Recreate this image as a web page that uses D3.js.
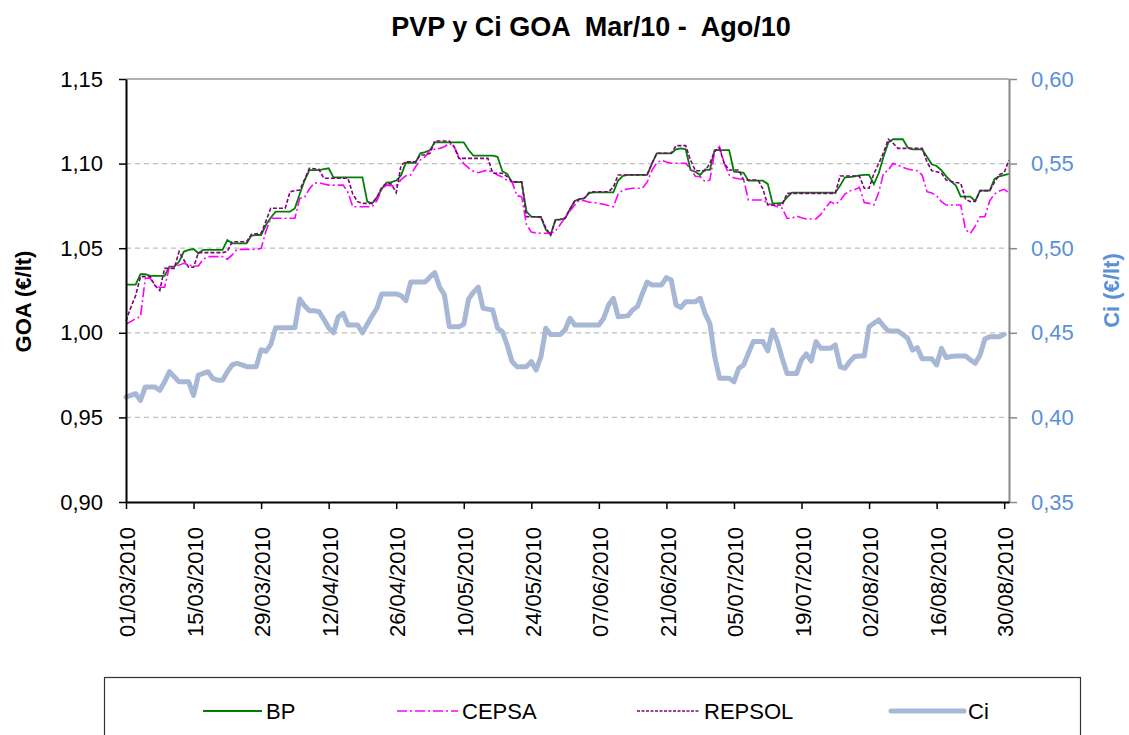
<!DOCTYPE html>
<html><head><meta charset="utf-8">
<script src="https://cdn.jsdelivr.net/npm/d3@7"></script>
<style>
body{margin:0;background:#fff;}
svg{display:block;font-family:"Liberation Sans",Arial,sans-serif;}
</style>
</head><body>
<svg id="chart" width="1129" height="735"></svg>
<script>
// ---------- data ----------
const startDate = "2010-03-01";           // first daily category
const endDate = "2010-08-31";             // last category on the axis
const tickLabels = ["01/03/2010","15/03/2010","29/03/2010","12/04/2010","26/04/2010","10/05/2010","24/05/2010",
  "07/06/2010","21/06/2010","05/07/2010","19/07/2010","02/08/2010","16/08/2010","30/08/2010"];
const leftTicks = [0.90,0.95,1.00,1.05,1.10,1.15];
const rightTicks = [0.35,0.40,0.45,0.50,0.55,0.60];
const seriesNames = ["BP","CEPSA","REPSOL","Ci"];

const bp = [1.0285,1.0285,1.0285,1.0346,1.0346,1.0336,1.0336,1.0336,1.0336,1.0391,
1.0391,1.0420,1.0480,1.0490,1.0495,1.0470,1.0490,1.0490,1.0490,1.0490,
1.0490,1.0548,1.0529,1.0529,1.0529,1.0529,1.0575,1.0578,1.0578,1.0637,
1.0680,1.0716,1.0716,1.0716,1.0716,1.0736,1.0820,1.0900,1.0962,1.0962,
1.0962,1.0967,1.0972,1.0919,1.0919,1.0919,1.0919,1.0919,1.0919,1.0919,
1.0775,1.0765,1.0800,1.0850,1.0887,1.0890,1.0900,1.0930,1.1005,1.1005,
1.1005,1.1061,1.1068,1.1080,1.1126,1.1126,1.1126,1.1126,1.1126,1.1126,
1.1126,1.1080,1.1047,1.1047,1.1047,1.1047,1.1047,1.1040,1.0955,1.0939,
1.0890,1.0890,1.0890,1.0716,1.0686,1.0685,1.0683,1.0610,1.0578,1.0667,
1.0670,1.0677,1.0730,1.0779,1.0790,1.0795,1.0825,1.0830,1.0830,1.0830,
1.0830,1.0830,1.0900,1.0927,1.0933,1.0933,1.0933,1.0933,1.0933,1.1000,
1.1061,1.1061,1.1061,1.1061,1.1084,1.1090,1.1084,1.0962,1.0952,1.0933,
1.0966,1.0962,1.1080,1.1080,1.1080,1.1080,1.0952,1.0950,1.0946,1.0899,
1.0899,1.0899,1.0899,1.0880,1.0765,1.0765,1.0768,1.0800,1.0828,1.0828,
1.0828,1.0828,1.0828,1.0828,1.0828,1.0828,1.0828,1.0828,1.0870,1.0919,
1.0920,1.0925,1.0930,1.0933,1.0933,1.0879,1.0943,1.1040,1.1125,1.1144,
1.1144,1.1144,1.1095,1.1084,1.1084,1.1084,1.1040,1.0996,1.0986,1.0960,
1.0925,1.0895,1.0870,1.0805,1.0805,1.0805,1.0778,1.0840,1.0840,1.0840,
1.0910,1.0925,1.0932,1.0939];

const cepsa = [1.0052,1.0066,1.0085,1.0095,1.0322,1.0322,1.0280,1.0269,1.0269,1.0391,
1.0387,1.0400,1.0411,1.0400,1.0395,1.0395,1.0435,1.0450,1.0450,1.0450,
1.0450,1.0435,1.0460,1.0493,1.0493,1.0493,1.0493,1.0493,1.0499,1.0600,
1.0677,1.0677,1.0677,1.0677,1.0677,1.0677,1.0795,1.0800,1.0850,1.0885,
1.0887,1.0880,1.0873,1.0873,1.0873,1.0873,1.0830,1.0745,1.0745,1.0745,
1.0745,1.0745,1.0780,1.0850,1.0873,1.0870,1.0868,1.0905,1.0928,1.0933,
1.0980,1.1021,1.1041,1.1080,1.1085,1.1090,1.1100,1.1120,1.1100,1.1040,
1.1000,1.0975,1.0955,1.0946,1.0955,1.0962,1.0950,1.0933,1.0920,1.0900,
1.0893,1.0810,1.0805,1.0640,1.0595,1.0590,1.0588,1.0588,1.0588,1.0600,
1.0640,1.0680,1.0720,1.0755,1.0785,1.0780,1.0772,1.0770,1.0765,1.0760,
1.0752,1.0745,1.0820,1.0844,1.0850,1.0854,1.0854,1.0854,1.0890,1.0960,
1.1005,1.1020,1.1010,1.1002,1.1002,1.1002,1.1002,1.0970,1.0925,1.0923,
1.0893,1.0903,1.1070,1.1100,1.1000,1.0933,1.0915,1.0910,1.0907,1.0785,
1.0785,1.0785,1.0785,1.0765,1.0755,1.0745,1.0736,1.0677,1.0677,1.0690,
1.0680,1.0673,1.0673,1.0673,1.0700,1.0740,1.0775,1.0760,1.0780,1.0820,
1.0838,1.0845,1.0860,1.0770,1.0765,1.0755,1.0830,1.0943,1.0962,1.1002,
1.0990,1.0978,1.0968,1.0962,1.0958,1.0933,1.0834,1.0826,1.0810,1.0775,
1.0755,1.0755,1.0755,1.0755,1.0610,1.0588,1.0630,1.0686,1.0686,1.0780,
1.0820,1.0838,1.0848,1.0828];

const repsol = [1.0070,1.0150,1.0220,1.0332,1.0332,1.0332,1.0280,1.0250,1.0381,1.0381,
1.0381,1.0480,1.0430,1.0387,1.0387,1.0474,1.0474,1.0474,1.0474,1.0474,
1.0474,1.0480,1.0538,1.0538,1.0538,1.0538,1.0582,1.0585,1.0588,1.0660,
1.0736,1.0736,1.0736,1.0736,1.0834,1.0840,1.0844,1.0905,1.0972,1.0970,
1.0966,1.0913,1.0913,1.0913,1.0913,1.0913,1.0913,1.0820,1.0775,1.0765,
1.0765,1.0765,1.0800,1.0860,1.0883,1.0879,1.0828,1.0990,1.1011,1.1011,
1.1011,1.1051,1.1051,1.1060,1.1134,1.1134,1.1134,1.1134,1.1100,1.1031,
1.1031,1.1031,1.1031,1.1031,1.1031,1.1031,1.0943,1.0943,1.0943,1.0923,
1.0893,1.0893,1.0893,1.0686,1.0686,1.0686,1.0686,1.0620,1.0578,1.0667,
1.0670,1.0677,1.0730,1.0779,1.0790,1.0795,1.0830,1.0834,1.0834,1.0834,
1.0834,1.0860,1.0933,1.0933,1.0933,1.0933,1.0933,1.0933,1.0933,1.1000,
1.1061,1.1061,1.1061,1.1061,1.1106,1.1106,1.1106,1.1020,1.0958,1.0958,
1.0958,1.1000,1.1075,1.1090,1.1000,1.0962,1.0962,1.0962,1.0903,1.0903,
1.0903,1.0903,1.0850,1.0755,1.0755,1.0755,1.0755,1.0824,1.0824,1.0824,
1.0824,1.0824,1.0824,1.0824,1.0824,1.0824,1.0824,1.0824,1.0927,1.0927,
1.0927,1.0927,1.0927,1.0854,1.0854,1.0940,1.1000,1.1065,1.1144,1.1120,
1.1090,1.1090,1.1090,1.1090,1.1090,1.1090,1.1010,1.0958,1.0952,1.0943,
1.0903,1.0895,1.0888,1.0884,1.0790,1.0775,1.0777,1.0840,1.0840,1.0840,
1.0890,1.0935,1.0946,1.1021];

const ci = [0.412,0.413,0.414,0.410,0.418,0.418,0.418,0.416,0.421,0.427,
0.424,0.421,0.421,0.421,0.413,0.425,0.426,0.427,0.423,0.422,
0.422,0.427,0.431,0.432,0.431,0.430,0.430,0.430,0.440,0.439,
0.443,0.453,0.453,0.453,0.453,0.453,0.470,0.466,0.463,0.463,
0.4625,0.458,0.453,0.450,0.4595,0.4615,0.4546,0.4546,0.4546,0.450,
0.455,0.460,0.4645,0.473,0.473,0.473,0.473,0.472,0.469,0.480,
0.480,0.480,0.480,0.483,0.4855,0.477,0.4724,0.4536,0.4536,0.4536,
0.455,0.470,0.474,0.477,0.4645,0.464,0.4635,0.4527,0.4507,0.4428,
0.433,0.430,0.430,0.430,0.433,0.428,0.436,0.4527,0.449,0.449,
0.449,0.4517,0.4586,0.4546,0.4546,0.4546,0.4546,0.4546,0.4546,0.4586,
0.4664,0.4704,0.4595,0.4598,0.460,0.4635,0.4655,0.473,0.480,0.4783,
0.4783,0.4783,0.4826,0.4812,0.4664,0.465,0.4684,0.4684,0.4684,0.4704,
0.4615,0.4556,0.436,0.4231,0.4231,0.4231,0.4211,0.429,0.431,0.438,
0.4448,0.4448,0.4448,0.4393,0.4517,0.4448,0.435,0.426,0.426,0.426,
0.434,0.4375,0.4333,0.4448,0.4408,0.4408,0.4408,0.4428,0.430,0.429,
0.433,0.436,0.4363,0.4363,0.4536,0.4556,0.4576,0.454,0.4511,0.4511,
0.4511,0.449,0.4468,0.4398,0.4412,0.4346,0.4346,0.4346,0.431,0.4408,
0.4353,0.436,0.4363,0.4363,0.4363,0.434,0.432,0.4369,0.4463,0.4477,
0.4477,0.4477,0.4491];

// ---------- layout ----------
const plot = {left:126, right:1009, top:79, bottom:502};
const FS = 22;
const svg = d3.select("#chart");

const parse = d3.utcParse("%Y-%m-%d");
const parseTick = d3.utcParse("%d/%m/%Y");
const t0 = parse(startDate), t1 = parse(endDate);
const dayOf = i => d3.utcDay.offset(t0, i);

const x = d3.scaleUtc().domain([t0, t1]).range([plot.left, plot.right]);
const yL = d3.scaleLinear().domain([0.90, 1.15]).range([plot.bottom, plot.top]);
const yR = d3.scaleLinear().domain([0.35, 0.60]).range([plot.bottom, plot.top]);
const fmt = d => d.toFixed(2).replace(".", ",");

// gridlines
svg.append("g").selectAll("line").data(leftTicks.filter(v => v > 0.9 && v < 1.15)).join("line")
  .attr("x1", plot.left).attr("x2", plot.right)
  .attr("y1", d => yL(d)).attr("y2", d => yL(d))
  .attr("stroke", "#c0c0c0").attr("stroke-width", 1.3).attr("stroke-dasharray", "5,4");

// top border of plot area
svg.append("line").attr("x1", plot.left).attr("x2", plot.right)
  .attr("y1", yL(1.15)).attr("y2", yL(1.15)).attr("stroke", "#999").attr("stroke-width", 1.5);

// Ci line (secondary axis)
const lineCi = d3.line().x((d, i) => x(dayOf(i))).y(d => yR(d));
svg.append("path").datum(ci).attr("d", lineCi)
  .attr("fill", "none").attr("stroke", "#a7b7d6").attr("stroke-width", 5)
  .attr("stroke-linejoin", "round").attr("stroke-linecap", "round");

// GOA lines
const lineL = d3.line().x((d, i) => x(dayOf(i))).y(d => yL(d));
const styles = {
  BP: {color:"#008000", dash:null, w:1.8},
  CEPSA: {color:"#ff00ff", dash:"10,3,2,3", w:1.6},
  REPSOL: {color:"#800080", dash:"4,2", w:1.6}
};
[["BP", bp], ["CEPSA", cepsa], ["REPSOL", repsol]].forEach(([name, vals]) => {
  svg.append("path").datum(vals).attr("d", lineL)
    .attr("fill", "none").attr("stroke", styles[name].color)
    .attr("stroke-width", styles[name].w)
    .attr("stroke-dasharray", styles[name].dash);
});

// left axis
const gL = svg.append("g").attr("transform", `translate(${plot.left},0)`)
  .call(d3.axisLeft(yL).tickValues(leftTicks).tickFormat(fmt).tickSize(7).tickSizeOuter(0).tickPadding(16));
gL.select(".domain").attr("stroke", "#000").attr("stroke-width", 2);
gL.selectAll(".tick line").attr("stroke", "#000").attr("stroke-width", 1.5);
gL.selectAll(".tick text").attr("font-size", FS).attr("fill", "#000")
  .attr("font-family", "Liberation Sans, Arial, sans-serif");

// right axis
const gR = svg.append("g").attr("transform", `translate(${plot.right},0)`)
  .call(d3.axisRight(yR).tickValues(rightTicks).tickFormat(fmt).tickSize(8).tickSizeOuter(0).tickPadding(14));
gR.select(".domain").attr("stroke", "#888").attr("stroke-width", 2);
gR.selectAll(".tick line").attr("stroke", "#888").attr("stroke-width", 1.5);
gR.selectAll(".tick text").attr("font-size", FS).attr("fill", "#5b8fd6")
  .attr("font-family", "Liberation Sans, Arial, sans-serif");

// bottom axis
const tickDates = tickLabels.map(parseTick);
const gB = svg.append("g").attr("transform", `translate(0,${plot.bottom})`)
  .call(d3.axisBottom(x).tickValues(tickDates).tickFormat("").tickSize(7).tickSizeOuter(0));
gB.select(".domain").attr("stroke", "#000").attr("stroke-width", 2);
gB.selectAll(".tick line").attr("stroke", "#000").attr("stroke-width", 1.5);
svg.append("g").selectAll("text").data(tickLabels).join("text")
  .attr("transform", d => `translate(${x(parseTick(d)) + 1.5},${plot.bottom + 25}) rotate(-90)`)
  .attr("text-anchor", "end").attr("dy", "0.35em")
  .attr("font-size", FS).attr("fill", "#000").text(d => d);

// axis titles
svg.append("text").attr("transform", `translate(23,${(plot.top + plot.bottom) / 2 + 11}) rotate(-90)`)
  .attr("text-anchor", "middle").attr("dy", "0.35em")
  .attr("font-size", FS).attr("font-weight", "bold").attr("fill", "#000").text("GOA (€/lt)");
svg.append("text").attr("transform", `translate(1111,${(plot.top + plot.bottom) / 2}) rotate(-90)`)
  .attr("text-anchor", "middle").attr("dy", "0.35em")
  .attr("font-size", FS).attr("font-weight", "bold").attr("fill", "#5b8fd6").text("Ci (€/lt)");

// title
svg.append("text").attr("x", 591).attr("y", 36).attr("text-anchor", "middle")
  .attr("xml:space", "preserve").style("white-space", "pre")
  .attr("font-size", 27).attr("font-weight", "bold").attr("fill", "#000")
  .text("PVP y Ci GOA  Mar/10 -  Ago/10");

// legend
svg.append("rect").attr("x", 104.5).attr("y", 677.5).attr("width", 976).attr("height", 80)
  .attr("fill", "#fff").attr("stroke", "#333").attr("stroke-width", 1.2);
const legendItems = [
  {name:"BP", x1:203, x2:262, color:"#008000", dash:null, w:1.8},
  {name:"CEPSA", x1:397, x2:458, color:"#ff00ff", dash:"10,3,2,3", w:1.6},
  {name:"REPSOL", x1:637, x2:700, color:"#800080", dash:"3,1.5", w:1.6},
  {name:"Ci", x1:891, x2:964, color:"#a7b7d6", dash:null, w:5}
];
const lg = svg.append("g").selectAll("g").data(legendItems).join("g");
lg.append("line").attr("x1", d => d.x1).attr("x2", d => d.x2).attr("y1", 711).attr("y2", 711)
  .attr("stroke", d => d.color).attr("stroke-width", d => d.w)
  .attr("stroke-dasharray", d => d.dash).attr("stroke-linecap", d => d.name === "Ci" ? "round" : "butt");
lg.append("text").attr("x", d => d.x2 + 4).attr("y", 711).attr("dy", "0.35em")
  .attr("font-size", FS).attr("fill", "#000").text(d => d.name);
</script>
</body></html>
